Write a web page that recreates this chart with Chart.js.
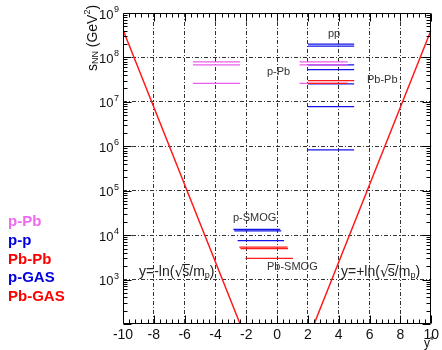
<!DOCTYPE html>
<html><head><meta charset="utf-8">
<script src="https://cdn.jsdelivr.net/npm/chart.js@4.4.1/dist/chart.umd.min.js"></script>
<style>html,body{margin:0;padding:0;background:#fff;}canvas{display:block;}</style>
</head><body>
<canvas id="c" width="442" height="350"></canvas>
<script>
// ---- axes ----
const xTickValues = [-10,-8,-6,-4,-2,0,2,4,6,8,10];
const yTickValues = [1e3,1e4,1e5,1e6,1e7,1e8,1e9];
const yTickExponents = ['3','4','5','6','7','8','9'];

// ---- kinematic limits y = -ln(sqrt(s)/mp) and y = +ln(sqrt(s)/mp) ----
const limitY = [-10, -2.4, 2.4, 10];
const limitS = [4.2e8, 100, 100, 4.2e8];

// ---- collider / fixed-target segments: rapidity start, end, s_NN ----
const pPbStart = [-5.46, -5.46, -5.46, 1.46, 1.46, 1.46];
const pPbEnd   = [-2.41, -2.41, -2.41, 4.58, 4.58, 4.58];
const pPbS     = [7.9e7, 6.8e7, 2.6e7, 7.9e7, 6.8e7, 2.6e7];

const ppStart = [2, 2, 2, 2, 2, 2, 2];
const ppEnd   = [5, 5, 5, 5, 5, 5, 5];
const ppS     = [2.0e8, 1.8e8, 6.8e7, 5.3e7, 2.55e7, 7.8e6, 8.3e5];

const PbPbStart = [2, 2];
const PbPbEnd   = [5, 4.58];
const PbPbS     = [3.0e7, 2.6e7];

const pGasStart = [-2.84, -2.78, -2.56];
const pGasEnd   = [0.2, 0.27, 0.45];
const pGasS     = [1.35e4, 1.24e4, 7.55e3];

const PbGasStart = [-2.45, -2.38, -2.05];
const PbGasEnd   = [0.68, 0.71, 1.03];
const PbGasS     = [5.4e3, 4.95e3, 3.0e3];

const legendLabels = ['p-Pb', 'p-p', 'Pb-Pb', 'p-GAS', 'Pb-GAS'];
const MAGENTA = '#ee5cee', BLUE = '#1414e6', RED = '#ff1a1a';
const legendColors = ['#ee6aee', '#0000e0', '#ff0000', '#0000e0', '#ff0000'];

function segs(start, end, s) {
  const out = [];
  for (let i = 0; i < s.length; i++) {
    out.push({x: start[i], y: s[i]}, {x: end[i], y: s[i]}, {x: end[i], y: null});
  }
  return out;
}
function ds(label, data, color, w) {
  return {label, data, borderColor: color, backgroundColor: color, borderWidth: w || 1.25,
          pointRadius: 0, spanGaps: false, tension: 0, fill: false};
}

const datasets = [
  ds('Pb-Pb', segs(PbPbStart, PbPbEnd, PbPbS), RED),
  ds('p-Pb', segs(pPbStart, pPbEnd, pPbS), MAGENTA),
  ds('p-p', segs(ppStart, ppEnd, ppS), BLUE),
  ds('p-GAS', segs(pGasStart, pGasEnd, pGasS), BLUE),
  ds('Pb-GAS', segs(PbGasStart, PbGasEnd, PbGasS), RED),
  ds('limit', limitY.map((v, i) => ({x: v, y: limitS[i]})), RED, 1.5)
];

const gridColor = c => (c.tick && c.index > 0 && c.index < c.scale.ticks.length - 1) ? '#333' : 'rgba(0,0,0,0)';

function drawSeq(ctx, x, y, parts) {
  let cx = x;
  for (const p of parts) {
    ctx.font = (p[3] ? 'bold ' : '') + p[1] + 'px "Liberation Sans", Arial, sans-serif';
    ctx.fillText(p[0], cx, y + (p[2] || 0));
    cx += ctx.measureText(p[0]).width;
  }
  return cx;
}
function seqWidth(ctx, parts) {
  let w = 0;
  for (const p of parts) {
    ctx.font = (p[3] ? 'bold ' : '') + p[1] + 'px "Liberation Sans", Arial, sans-serif';
    w += ctx.measureText(p[0]).width;
  }
  return w;
}
function drawFormula(ctx, x, y, sign) {
  ctx.font = '14px "Liberation Sans", Arial, sans-serif';
  let cx = drawSeq(ctx, x, y, [['y=' + sign + 'ln(', 14, 0]]);
  ctx.font = '14px "DejaVu Sans", sans-serif';
  ctx.fillText('\u221A', cx, y + 1);
  cx += ctx.measureText('\u221A').width - 1;
  ctx.font = '14px "Liberation Sans", Arial, sans-serif';
  const sw = ctx.measureText('s').width;
  ctx.fillText('s', cx, y);
  ctx.save(); ctx.lineWidth = 1; ctx.beginPath();
  ctx.moveTo(cx, y - 7.5); ctx.lineTo(cx + sw + 0.5, y - 7.5); ctx.stroke(); ctx.restore();
  cx += sw;
  drawSeq(ctx, cx, y, [['/m', 14, 0], ['p', 9, 4], [')', 14, 0]]);
}

const decor = {
  id: 'decor',
  afterDraw(chart) {
    const {ctx, chartArea: a, scales: {x, y}} = chart;
    ctx.save();
    ctx.strokeStyle = '#000'; ctx.lineWidth = 1;
    const L = Math.round(a.left) + 0.5, R = Math.round(a.right) - 0.5;
    const T = Math.round(a.top) + 0.5, B = Math.round(a.bottom) - 0.5;
    ctx.beginPath(); ctx.rect(L, T, R - L, B - T); ctx.stroke();
    ctx.beginPath();
    for (let k = -25; k <= 25; k++) {
      const v = k * 0.4;
      const px = Math.round(x.getPixelForValue(v)) + 0.5;
      const len = (k % 5 === 0) ? 8 : 4;
      ctx.moveTo(px, B); ctx.lineTo(px, B - len);
      ctx.moveTo(px, T); ctx.lineTo(px, T + len);
    }
    for (let e = 2; e <= 8; e++) {
      for (let m = 1; m <= 9; m++) {
        const py = Math.round(y.getPixelForValue(m * Math.pow(10, e))) + 0.5;
        const len = m === 1 ? 8 : 4;
        ctx.moveTo(L, py); ctx.lineTo(L + len, py);
        ctx.moveTo(R, py); ctx.lineTo(R - len, py);
      }
    }
    ctx.stroke();

    ctx.fillStyle = '#111';
    ctx.textBaseline = 'middle';
    yTickValues.forEach((v, i) => {
      const py = y.getPixelForValue(v);
      ctx.font = '13px "Liberation Sans", Arial, sans-serif';
      ctx.textAlign = 'right';
      ctx.fillText('10', 113.5, py + 2);
      ctx.textAlign = 'left';
      ctx.font = '9px "Liberation Sans", Arial, sans-serif';
      ctx.fillText(yTickExponents[i], 114, py - 3.5);
    });

    ctx.save();
    ctx.translate(93, 38);
    ctx.rotate(-Math.PI / 2);
    ctx.textAlign = 'left';
    const tparts = [['s', 14, 0], ['NN', 9, 3], [' (GeV', 14, 0], ['2', 9, -5], [')', 14, 0]];
    const tw = seqWidth(ctx, tparts);
    drawSeq(ctx, -tw / 2, 0, tparts);
    ctx.restore();

    ctx.textAlign = 'left';
    drawSeq(ctx, 424, 344, [['y', 12, 0], ['*', 10, -3]]);

    const legY = [222, 241, 259.5, 278, 297];
    ctx.font = 'bold 15px "Liberation Sans", Arial, sans-serif';
    legendLabels.forEach((t, i) => { ctx.fillStyle = legendColors[i]; ctx.fillText(t, 8, legY[i]); });

    ctx.fillStyle = '#333';
    ctx.font = '11px "Liberation Sans", Arial, sans-serif';
    ctx.fillText('pp', 328, 34);
    ctx.fillText('p-Pb', 267, 72);
    ctx.fillText('Pb-Pb', 367, 80);
    ctx.fillText('p-SMOG', 233, 217.5);
    ctx.fillText('Pb-SMOG', 267, 267);
    ctx.fillStyle = '#222'; ctx.strokeStyle = '#222';
    drawFormula(ctx, 139, 272, '-');
    drawFormula(ctx, 341, 272, '+');
    ctx.restore();
  }
};

new Chart(document.getElementById('c'), {
  type: 'line',
  data: {datasets},
  options: {
    responsive: false, animation: false, devicePixelRatio: 1,
    layout: {padding: {left: 0, right: 8, top: 13, bottom: 0}},
    plugins: {legend: {display: false}, tooltip: {enabled: false}},
    scales: {
      x: {
        type: 'linear', min: -10, max: 10,
        afterBuildTicks: s => { s.ticks = xTickValues.map(v => ({value: v})); },
        ticks: {autoSkip: false, maxRotation: 0, padding: 3, color: '#111',
                font: {family: '"Liberation Sans", Arial, sans-serif', size: 14}},
        grid: {color: gridColor, drawTicks: false, lineWidth: 1},
        border: {display: false, dash: [4, 2, 1, 2]},
        afterFit: s => { s.height = 26; }
      },
      y: {
        type: 'logarithmic', min: 100, max: 1e9,
        afterBuildTicks: s => { s.ticks = [100].concat(yTickValues).map(v => ({value: v})); },
        ticks: {display: false},
        grid: {color: gridColor, drawTicks: false, lineWidth: 1},
        border: {display: false, dash: [4, 2, 1, 2]},
        afterFit: s => { s.width = 123; }
      }
    }
  },
  plugins: [decor]
});
</script>
</body></html>
